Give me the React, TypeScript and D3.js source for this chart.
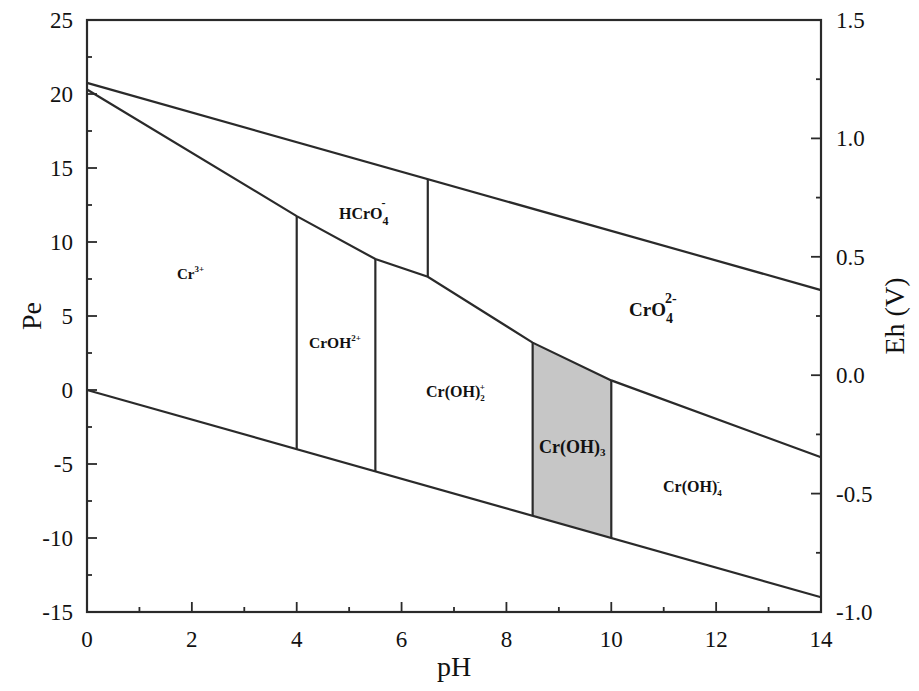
import React from "react";
import * as d3 from "d3";

const width = 919;
const height = 691;
const margin = { top: 20, right: 98, bottom: 79, left: 87 };

const phTicks = [0, 2, 4, 6, 8, 10, 12, 14];
const peTicks = [-15, -10, -5, 0, 5, 10, 15, 20, 25];
const ehTicks = ["-1.0", "-0.5", "0.0", "0.5", "1.0", "1.5"];

// water stability limits (pH, pe)
const upperWater: [number, number][] = [[0, 20.75], [14, 6.75]];
const lowerWater: [number, number][] = [[0, 0], [14, -14]];
// Cr(III) / Cr(VI) boundary
const crBoundary: [number, number][] = [
  [0, 20.3], [4, 11.75], [5.5, 8.85], [6.5, 7.65], [8.5, 3.2], [10, 0.65], [14, -4.55],
];
// vertical boundaries: pH, top pe, bottom pe
const verticals: [number, number, number][] = [
  [4, 11.75, -4],
  [5.5, 8.85, -5.5],
  [6.5, 14.25, 7.65],
  [8.5, 3.2, -8.5],
  [10, 0.65, -10],
];
// Cr(OH)3 solid field
const solidField: [number, number][] = [[8.5, 3.2], [10, 0.65], [10, -10], [8.5, -8.5]];

const App = () => {
  const iw = width - margin.left - margin.right;
  const ih = height - margin.top - margin.bottom;
  const x = d3.scaleLinear().domain([0, 14]).range([margin.left, margin.left + iw]);
  const y = d3.scaleLinear().domain([-15, 25]).range([margin.top + ih, margin.top]);
  const yEh = d3.scaleLinear().domain([-1, 1.5]).range([margin.top + ih, margin.top]);
  const line = d3.line<[number, number]>().x((d) => x(d[0])).y((d) => y(d[1]));

  const stroke = "#2a2a2a";
  const font = "'Liberation Serif', 'Times New Roman', serif";
  const x0 = margin.left;
  const x1 = margin.left + iw;
  const y0 = margin.top + ih;
  const y1 = margin.top;

  const label = { fontFamily: font, fontWeight: "bold", fill: "#111" } as const;

  return (
    <svg width={width} height={height} style={{ position: "absolute", left: 0, top: 0, background: "#fff" }}>
      <rect width={width} height={height} fill="#fff" />
      <path d={line(solidField) + "Z"} fill="#c6c6c6" />
      <g fill="none" stroke={stroke} strokeWidth={2.2}>
        <path d={line(upperWater)!} />
        <path d={line(lowerWater)!} />
        <path d={line(crBoundary)!} />
        {verticals.map(([ph, a, b]) => (
          <line key={ph} x1={x(ph)} x2={x(ph)} y1={y(a)} y2={y(b)} />
        ))}
      </g>

      {/* frame */}
      <rect x={x0} y={y1} width={iw} height={ih} fill="none" stroke={stroke} strokeWidth={2.2} />

      {/* ticks, all pointing inward */}
      <g stroke={stroke} strokeWidth={1.8}>
        {d3.range(0, 15, 1).map((v) => (
          <line key={"bx" + v} x1={x(v)} x2={x(v)} y1={y0} y2={y0 - (v % 2 === 0 ? 10 : 5)} />
        ))}
        {d3.range(-15, 25.1, 2.5).map((v) => (
          <line key={"ly" + v} x1={x0} x2={x0 + (v % 5 === 0 ? 10 : 5)} y1={y(v)} y2={y(v)} />
        ))}
        {d3.range(-1, 1.51, 0.25).map((v) => (
          <line
            key={"ry" + v}
            x1={x1}
            x2={x1 - (Math.abs(v * 2 - Math.round(v * 2)) < 1e-6 ? 10 : 5)}
            y1={yEh(v)}
            y2={yEh(v)}
          />
        ))}
      </g>

      <g fontFamily={font} fontSize={23} fill="#111">
        {phTicks.map((v) => (
          <text key={"pt" + v} x={x(v)} y={y0 + 35} textAnchor="middle">
            {v}
          </text>
        ))}
        {peTicks.map((v) => (
          <text key={"et" + v} x={x0 - 14} y={y(v) + 8} textAnchor="end">
            {v}
          </text>
        ))}
        {ehTicks.map((t) => (
          <text key={"eh" + t} x={x1 + 15} y={yEh(+t) + 8} textAnchor="start">
            {t}
          </text>
        ))}
      </g>

      <g fontFamily={font} fontSize={28} fill="#111">
        <text x={x(7)} y={y0 + 64} textAnchor="middle">pH</text>
        <text transform={`translate(41,${y(5)}) rotate(-90)`} textAnchor="middle">Pe</text>
        <text transform={`translate(904,${y(5)}) rotate(-90)`} textAnchor="middle">Eh (V)</text>
      </g>

      {/* field labels */}
      <text {...label} x={177} y={279} fontSize={15}>
        Cr<tspan fontSize={9} dy={-7}>3+</tspan>
      </text>
      <text {...label} x={309} y={348} fontSize={15.5}>
        CrOH<tspan fontSize={9} dy={-7}>2+</tspan>
      </text>
      <text {...label} x={339} y={219} fontSize={16}>
        HCrO<tspan fontSize={12} dy={6}>4</tspan>
        <tspan fontSize={12} dx={-7} dy={-18}>-</tspan>
      </text>
      <text {...label} x={426} y={397} fontSize={16}>
        Cr(OH)<tspan fontSize={9} dy={4}>2</tspan>
        <tspan fontSize={9} dx={-5} dy={-11}>+</tspan>
      </text>
      <text {...label} x={539} y={453} fontSize={18}>
        Cr(OH)<tspan fontSize={11} dy={3}>3</tspan>
      </text>
      <text {...label} x={629} y={316} fontSize={19}>
        CrO<tspan fontSize={14} dy={7}>4</tspan>
        <tspan fontSize={14} dx={-8} dy={-20}>2-</tspan>
      </text>
      <text {...label} x={663} y={492} fontSize={16}>
        Cr(OH)<tspan fontSize={9} dy={4}>4</tspan>
        <tspan fontSize={9} dx={-5} dy={-11}>-</tspan>
      </text>
    </svg>
  );
};

export default App;
